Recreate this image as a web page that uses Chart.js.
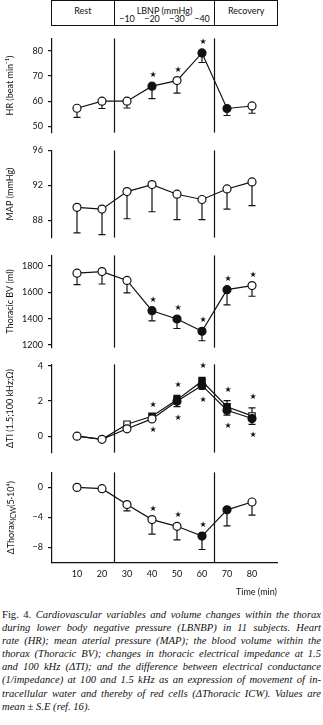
<!DOCTYPE html>
<html>
<head>
<meta charset="utf-8">
<script src="https://cdn.jsdelivr.net/npm/chart.js@4.4.1/dist/chart.umd.min.js"></script>
<style>
  html, body { margin: 0; padding: 0; background: #fff; }
  body { width: 323px; height: 725px; position: relative; overflow: hidden; font-family: Lato, sans-serif; color: #111; }
  canvas { position: absolute; left: 0; }
  #phaseBox { position: absolute; top: 0; height: 26px; border: 1px solid #111; box-sizing: border-box; }
  .hdr { position: absolute; font-size: 9px; line-height: 10px; white-space: nowrap; transform: translate(-50%, -50%); }
  .sep { position: absolute; top: 0; width: 1px; height: 26px; background: #111; }
  #caption { position: absolute; left: 2px; top: 608px; width: 319px; font-family: 'Liberation Serif', serif; font-style: italic; font-size: 10.6px; line-height: 13.1px; color: #111; }
  #caption div { text-align: justify; text-align-last: justify; }
  #caption div.last { text-align-last: left; }
  #caption .up { font-style: normal; }
</style>
</head>
<body>
<div id="caption">
  <div><span class="up">Fig. 4.</span> Cardiovascular variables and volume changes within the thorax</div>
  <div>during lower body negative pressure (LBNBP) in 11 subjects. Heart</div>
  <div>rate (HR); mean aterial pressure (MAP); the blood volume within the</div>
  <div>thorax (Thoracic BV); changes in thoracic electrical impedance at 1.5</div>
  <div>and 100 kHz (ΔTI); and the difference between electrical conductance</div>
  <div>(1/impedance) at 100 and 1.5 kHz as an expression of movement of in-</div>
  <div>tracellular water and thereby of red cells (ΔThoracic ICW). Values are</div>
  <div class="last">mean ± S.E (ref. 16).</div>
</div>
<script>
const INK = '#111';

// time axis
const timeMin = [10, 20, 30, 40, 50, 60, 70, 80];
const xTicks = [10, 20, 30, 40, 50, 60, 70, 80];
const phaseBounds = [25, 65];           // rest | LBNP | recovery
const lbnpLevels = ['−10', '−20', '−30', '−40'];

// heart rate
const hrMean = [57.2, 60.0, 60.0, 66.0, 68.2, 79.2, 57.1, 58.1];
const hrSE = [3.6, 2.9, 2.7, 5.0, 5.0, 3.8, 2.8, 2.9];
const hrFilled = [0, 0, 0, 1, 0, 1, 1, 0];
const hrSig = [0, 0, 0, 1, 1, 1, 0, 0];
const hrTicks = [50, 60, 70, 80];

// mean arterial pressure
const mapMean = [89.5, 89.3, 91.3, 92.1, 91.0, 90.4, 91.6, 92.4];
const mapSE = [2.9, 2.9, 3.1, 3.1, 2.9, 2.3, 2.3, 2.7];
const mapFilled = [0, 0, 0, 0, 0, 0, 0, 0];
const mapTicks = [88, 92, 96];

// thoracic blood volume
const bvMean = [1745, 1757, 1690, 1460, 1397, 1304, 1620, 1651];
const bvSE = [87, 94, 94, 77, 72, 72, 115, 81];
const bvFilled = [0, 0, 0, 1, 1, 1, 1, 0];
const bvSig = [0, 0, 0, 1, 1, 1, 1, 1];
const bvTicks = [1200, 1400, 1600, 1800];

// thoracic impedance change, squares and circles
const tiSq = [0, -0.18, 0.68, 1.13, 2.06, 3.12, 1.67, 1.15];
const tiSqSE = [0, 0, 0, 0, 0.25, 0.22, 0.35, 0.45];
const tiSqFilled = [0, 0, 0, 1, 1, 1, 1, 0];
const tiCi = [0, -0.18, 0.42, 0.98, 1.98, 2.88, 1.47, 1.0];
const tiCiSE = [0, 0, 0, 0, 0.3, 0.22, 0.27, 0.33];
const tiCiFilled = [0, 0, 0, 0, 1, 1, 1, 1];
const tiSig = [0, 0, 0, 1, 1, 1, 1, 1];
const tiTicks = [0, 2, 4];

// thoracic intracellular water change
const icwMean = [0, -0.17, -2.3, -4.3, -5.2, -6.5, -3.0, -1.95];
const icwSE = [0, 0, 0.85, 1.95, 1.8, 1.8, 2.15, 1.75];
const icwFilled = [0, 0, 0, 0, 0, 1, 1, 0];
const icwSig = [0, 0, 0, 1, 1, 1, 0, 0];
const icwTicks = [-8, -4, 0];

const fill = f => f.map(v => v ? INK : '#fff');

const panels = [
  { top: 36, bottom: 135, min: 47.5, max: 85, ticks: hrTicks, title: 'HR (beat min⁻¹)',
    series: [{ y: hrMean, down: hrSE, filled: hrFilled, starUp: hrSig }] },
  { top: 148, bottom: 240, min: 86.05, max: 96, ticks: mapTicks, title: 'MAP (mmHg)',
    series: [{ y: mapMean, down: mapSE, filled: mapFilled }] },
  { top: 253, bottom: 350, min: 1180, max: 1880, ticks: bvTicks, title: 'Thoracic BV (ml)',
    series: [{ y: bvMean, down: bvSE, filled: bvFilled, starUp: bvSig }] },
  { top: 362, bottom: 455, min: -0.93, max: 4.07, ticks: tiTicks, title: 'ΔTI (1.5;100 kHz;Ω)',
    series: [
      { y: tiCi, down: tiCiSE, filled: tiCiFilled, starDown: tiSig },
      { y: tiSq, up: tiSqSE, filled: tiSqFilled, starUp: tiSig, shape: 'rect', radius: [0, 0, 4.5, 4.5, 4.5, 4.5, 4.5, 4.5] }
    ] },
  { top: 470, bottom: 563, min: -10.1, max: 2, ticks: icwTicks, title: null, icwTitle: true,
    series: [{ y: icwMean, down: icwSE, filled: icwFilled, starUp: icwSig }] }
];

const panelMarks = {
  id: 'panelMarks',
  beforeDatasetsDraw(chart) {
    const { ctx, chartArea: a, scales: { x, y } } = chart;
    ctx.save();
    ctx.strokeStyle = INK;
    ctx.lineWidth = 1.2;
    phaseBounds.forEach(t => {
      const px = x.getPixelForValue(t);
      ctx.beginPath(); ctx.moveTo(px, a.top); ctx.lineTo(px, a.bottom); ctx.stroke();
    });
    // SE bars go under the markers
    chart.data.datasets.forEach(ds => {
      [['errUp', 1], ['errDown', -1]].forEach(([k, dir]) => {
        const e = ds[k];
        if (!e) return;
        ds.data.forEach((p, i) => {
          if (!e[i]) return;
          const px = x.getPixelForValue(p.x);
          const y0 = y.getPixelForValue(p.y);
          const y1 = y.getPixelForValue(p.y + dir * e[i]);
          ctx.beginPath();
          ctx.moveTo(px, y0); ctx.lineTo(px, y1);
          ctx.moveTo(px - 3.5, y1); ctx.lineTo(px + 3.5, y1);
          ctx.stroke();
        });
      });
    });
    ctx.restore();
  },
  afterDatasetsDraw(chart) {
    const { ctx, scales: { x, y } } = chart;
    ctx.save();
    ctx.fillStyle = INK;
    ctx.font = '8px "DejaVu Sans"';
    ctx.textAlign = 'center';
    ctx.textBaseline = 'middle';
    chart.data.datasets.forEach(ds => {
      ds.data.forEach((p, i) => {
        const px = x.getPixelForValue(p.x) + 1;
        if (ds.starUp && ds.starUp[i]) {
          const top = p.y + (ds.errUp ? ds.errUp[i] : 0);
          ctx.fillText('★', px, y.getPixelForValue(top) - 11);
        }
        if (ds.starDown && ds.starDown[i]) {
          const bot = p.y - (ds.errDown ? ds.errDown[i] : 0);
          ctx.fillText('★', px, y.getPixelForValue(bot) + 11);
        }
      });
    });
    ctx.restore();
  },
  afterDraw(chart, args, opts) {
    if (!opts.icwTitle) return;
    const { ctx, chartArea: a } = chart;
    const main = '9px Lato', sub = '7px Lato';
    const parts = [['ΔThorax', main, 0], ['ICW', sub, 2.5], ['(5·10⁴)', main, 0]];
    ctx.save();
    ctx.translate(11, (a.top + a.bottom) / 2);
    ctx.rotate(-Math.PI / 2);
    ctx.fillStyle = INK;
    ctx.textBaseline = 'middle';
    let total = 0;
    parts.forEach(([t, f]) => { ctx.font = f; total += ctx.measureText(t).width; });
    let cx = -total / 2;
    parts.forEach(([t, f, dy]) => {
      ctx.font = f;
      ctx.fillText(t, cx, dy);
      cx += ctx.measureText(t).width;
    });
    ctx.restore();
  }
};

Chart.defaults.font.family = 'Lato';
Chart.defaults.font.size = 9;
Chart.defaults.color = INK;

const charts = panels.map((p, idx) => {
  const isLast = idx === panels.length - 1;
  const pad = 8;
  const xAxisH = 40;
  const canvas = document.createElement('canvas');
  canvas.width = 323;
  canvas.height = pad + (p.bottom - p.top) + (isLast ? xAxisH : pad);
  canvas.style.top = (p.top - pad) + 'px';
  document.body.appendChild(canvas);

  const datasets = p.series.map(s => ({
    data: timeMin.map((t, i) => ({ x: t, y: s.y[i] })),
    borderColor: INK,
    borderWidth: 1.2,
    pointStyle: s.shape || 'circle',
    pointRadius: s.radius || 4,
    pointBorderWidth: 1.2,
    pointBorderColor: INK,
    pointBackgroundColor: fill(s.filled),
    errUp: s.up || null,
    errDown: s.down || null,
    starUp: s.starUp || null,
    starDown: s.starDown || null,
    clip: false
  }));

  return new Chart(canvas, {
    type: 'line',
    data: { datasets },
    plugins: [panelMarks],
    options: {
      responsive: false,
      animation: false,
      devicePixelRatio: 1,
      events: [],
      layout: { padding: { top: pad, bottom: isLast ? 0 : pad, left: 0, right: 46 } },
      plugins: {
        legend: { display: false },
        tooltip: { enabled: false },
        panelMarks: { icwTitle: !!p.icwTitle }
      },
      scales: {
        x: {
          type: 'linear', min: 0, max: 90, display: isLast,
          afterBuildTicks: s => { s.ticks = xTicks.map(v => ({ value: v })); },
          afterFit: s => { if (isLast) s.height = xAxisH; },
          grid: { display: false, drawTicks: false },
          border: { display: true, color: INK, width: 1.2 },
          ticks: { padding: 6, color: INK },
          title: { display: true, text: 'Time (min)', align: 'end', color: INK, padding: { top: 0, bottom: 6 } }
        },
        y: {
          min: p.min, max: p.max,
          afterBuildTicks: s => { s.ticks = p.ticks.map(v => ({ value: v })); },
          afterFit: s => { s.width = 52; },
          grid: { drawOnChartArea: false, drawTicks: true, tickLength: 4, color: INK, lineWidth: 1.2 },
          border: { display: true, color: INK, width: 1.2 },
          ticks: { padding: 5, color: INK, callback: v => String(v).replace('-', '−') },
          title: { display: !!p.title, text: p.title || '', color: INK, padding: { top: 5, bottom: 0 } }
        }
      }
    }
  });
});

// phase header above the panels, aligned to the time axis
(function buildHeader() {
  const c = charts[0];
  const x = c.scales.x;
  const a = c.chartArea;
  const left = a.left - 1, right = a.right + 1;
  const box = document.createElement('div');
  box.id = 'phaseBox';
  box.style.left = left + 'px';
  box.style.width = (right - left) + 'px';
  document.body.appendChild(box);
  const b1 = x.getPixelForValue(phaseBounds[0]);
  const b2 = x.getPixelForValue(phaseBounds[1]);
  [b1, b2].forEach(px => {
    const d = document.createElement('div');
    d.className = 'sep';
    d.style.left = Math.round(px - 0.5) + 'px';
    document.body.appendChild(d);
  });
  const label = (text, cx, cy) => {
    const d = document.createElement('div');
    d.className = 'hdr';
    d.textContent = text;
    d.style.left = cx + 'px';
    d.style.top = cy + 'px';
    document.body.appendChild(d);
  };
  label('Rest', (left + b1) / 2, 10.5);
  label('LBNP (mmHg)', (b1 + b2) / 2, 10.5);
  label('Recovery', (b2 + right) / 2, 10.5);
  lbnpLevels.forEach((t, i) => label(t, x.getPixelForValue(timeMin[i + 2]), 18.5));
})();
</script>
</body>
</html>
